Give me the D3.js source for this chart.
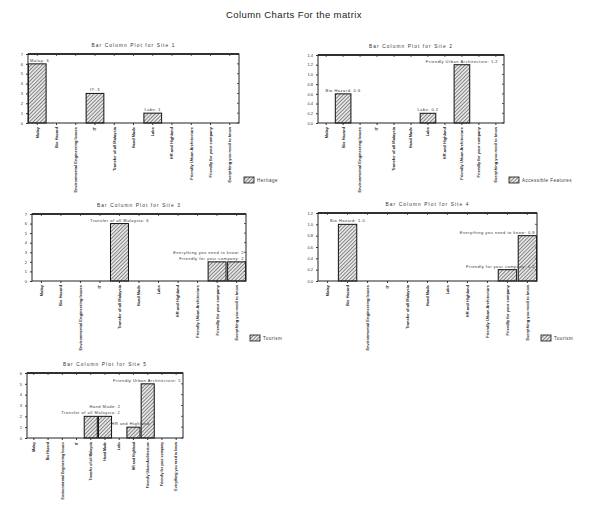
<!DOCTYPE html>
<html>
<head>
<meta charset="utf-8">
<script src="https://cdn.jsdelivr.net/npm/d3@7"></script>
<style>
  html, body { margin: 0; padding: 0; background: #fff; }
  svg { display: block; font-family: "Liberation Sans", Arial, sans-serif; }
</style>
</head>
<body>
<svg id="chart" width="589" height="506"></svg>
<script>
// Category names shared by all five site charts
const categories = [
  "Malay", "Bio Hazard", "Environmental Engineering Issues", "IT",
  "Transfer of all Malaysia", "Hand Made", "Labs", "HR and Highland",
  "Friendly Urban Architecture", "Friendly for your company",
  "Everything you need to know"
];

// Values per site
const site1Values = [6, 0, 0, 3, 0, 0, 1, 0, 0, 0, 0];
const site2Values = [0, 0.6, 0, 0, 0, 0, 0.2, 0, 1.2, 0, 0];
const site3Values = [0, 0, 0, 0, 6, 0, 0, 0, 0, 2, 2];
const site4Values = [0, 1.0, 0, 0, 0, 0, 0, 0, 0, 0.2, 0.8];
const site5Values = [0, 0, 0, 0, 2, 2, 0, 1, 5, 0, 0];

// Y-axis tick labels per site
const site1Ticks = [0, 1, 2, 3, 4, 5, 6, 7];
const site2Ticks = [0, 0.2, 0.4, 0.6, 0.8, 1.0, 1.2, 1.4];
const site3Ticks = [0, 1, 2, 3, 4, 5, 6, 7];
const site4Ticks = [0, 0.2, 0.4, 0.6, 0.8, 1.0, 1.2];
const site5Ticks = [0, 1, 2, 3, 4, 5, 6];

const siteTitles = [
  "Bar Column Plot for Site 1", "Bar Column Plot for Site 2",
  "Bar Column Plot for Site 3", "Bar Column Plot for Site 4",
  "Bar Column Plot for Site 5"
];
const legendNames = ["Heritage", "Accessible Features", "Tourism", "Tourism", null];

const svg = d3.select("#chart");

// Diagonal hatch used to fill the columns
const defs = svg.append("defs");
const pat = defs.append("pattern")
  .attr("id", "hatch").attr("patternUnits", "userSpaceOnUse")
  .attr("width", 2.6).attr("height", 2.6)
  .attr("patternTransform", "rotate(45)");
pat.append("rect").attr("width", 2.6).attr("height", 2.6).attr("fill", "#e4e4e4");
pat.append("line").attr("x1", 0).attr("y1", 0).attr("x2", 0).attr("y2", 2.6)
  .attr("stroke", "#333").attr("stroke-width", 1);

svg.append("text")
  .attr("x", 294).attr("y", 18)
  .attr("text-anchor", "middle")
  .attr("font-size", 9.5)
  .attr("letter-spacing", 0.4)
  .attr("fill", "#222")
  .text("Column Charts For the matrix");

const panels = [
  { values: site1Values, ticks: site1Ticks, fmt: d3.format("d"),   box: [28, 54, 239, 123],  legend: [244, 180], lab: 4.0 },
  { values: site2Values, ticks: site2Ticks, fmt: d3.format(".1f"), box: [318, 55, 504, 123], legend: [509, 180], lab: 4.0 },
  { values: site3Values, ticks: site3Ticks, fmt: d3.format("d"),   box: [32, 214, 246, 281], legend: [250, 338], lab: 4.0 },
  { values: site4Values, ticks: site4Ticks, fmt: d3.format(".1f"), box: [318, 213, 537, 281], legend: [541, 338], lab: 4.0 },
  { values: site5Values, ticks: site5Ticks, fmt: d3.format("d"),   box: [27, 373, 183, 438], legend: null, lab: 3.5 }
];

panels.forEach((p, i) => {
  const [x0, y0, x1, y1] = p.box;
  const g = svg.append("g");

  const x = d3.scaleBand().domain(categories).range([x0, x1]).paddingInner(0.08).paddingOuter(0.02);
  const y = d3.scaleLinear().domain([0, d3.max(p.ticks)]).range([y1, y0]);

  // Panel title
  g.append("text")
    .attr("x", (x0 + x1) / 2).attr("y", y0 - 7)
    .attr("text-anchor", "middle")
    .attr("font-size", 4.8).attr("letter-spacing", 1.1)
    .attr("fill", "#333")
    .text(siteTitles[i]);

  const bars = p.values.map((v, k) => ({ c: categories[k], v, k })).filter(d => d.v > 0);

  // Columns
  g.selectAll("rect.bar")
    .data(bars)
    .join("rect")
    .attr("class", "bar")
    .attr("x", d => x(d.c)).attr("width", x.bandwidth())
    .attr("y", d => y(d.v)).attr("height", d => y(0) - y(d.v))
    .attr("fill", "url(#hatch)")
    .attr("stroke", "#111").attr("stroke-width", 1);

  // Value labels above columns; neighbouring labels at the same height are staggered
  let prev = null;
  bars.forEach(d => {
    d.ly = y(d.v) - 2;
    if (prev && d.k - prev.k === 1 && Math.abs(prev.ly - d.ly) < 6) d.ly = prev.ly - 6;
    prev = d;
  });
  const labels = g.selectAll("text.val")
    .data(bars)
    .join("text")
    .attr("class", "val")
    .attr("x", d => x(d.c) + x.bandwidth() / 2)
    .attr("y", d => d.ly)
    .attr("text-anchor", "middle")
    .attr("font-size", 4).attr("letter-spacing", 0.5)
    .attr("fill", "#333")
    .text(d => d.c + ": " + p.fmt(d.v));

  // Keep value labels inside the plot frame
  labels.each(function(d) {
    const w = this.getComputedTextLength();
    const cx = x(d.c) + x.bandwidth() / 2;
    if (cx + w / 2 > x1 - 2) {
      d3.select(this).attr("text-anchor", "end").attr("x", x1 - 2);
    } else if (cx - w / 2 < x0 + 2) {
      d3.select(this).attr("text-anchor", "start").attr("x", x0 + 2);
    }
  });

  // Frame
  g.append("rect")
    .attr("x", x0).attr("y", y0).attr("width", x1 - x0).attr("height", y1 - y0)
    .attr("fill", "none").attr("stroke", "#222").attr("stroke-width", 1);
  g.append("line").attr("x1", x0).attr("x2", x1).attr("y1", y0).attr("y2", y0)
    .attr("stroke", "#111").attr("stroke-width", 1.6);

  // Left axis
  const yAxis = d3.axisLeft(y).tickValues(p.ticks).tickFormat(p.fmt).tickSize(2).tickPadding(3);
  const ya = g.append("g").attr("transform", `translate(${x0},0)`).call(yAxis);
  ya.select(".domain").remove();
  ya.selectAll("text").attr("font-size", 4).attr("fill", "#333");
  ya.selectAll("line").attr("stroke", "#333");

  // Right-side inner ticks
  g.selectAll("line.rt").data(p.ticks).join("line")
    .attr("x1", x1 - 2).attr("x2", x1).attr("y1", d => y(d)).attr("y2", d => y(d))
    .attr("stroke", "#333").attr("stroke-width", 0.8);

  // Top category ticks
  g.selectAll("line.tt").data(categories).join("line")
    .attr("x1", d => x(d) + x.bandwidth() / 2).attr("x2", d => x(d) + x.bandwidth() / 2)
    .attr("y1", y0).attr("y2", y0 + 2)
    .attr("stroke", "#333").attr("stroke-width", 0.8);

  // Bottom axis with rotated category labels
  const xAxis = d3.axisBottom(x).tickSize(2).tickPadding(2);
  const xa = g.append("g").attr("transform", `translate(0,${y1})`).call(xAxis);
  xa.select(".domain").remove();
  xa.selectAll("line").attr("stroke", "#333");
  xa.selectAll("text")
    .attr("font-size", p.lab).attr("font-weight", "bold").attr("fill", "#222")
    .attr("text-anchor", "end")
    .attr("transform", "rotate(-90)")
    .attr("x", -4).attr("y", 0).attr("dy", "0.35em");

  // Legend
  if (p.legend && legendNames[i]) {
    const [lx, ly] = p.legend;
    g.append("rect").attr("x", lx).attr("y", ly - 3).attr("width", 10).attr("height", 6)
      .attr("fill", "url(#hatch)").attr("stroke", "#111").attr("stroke-width", 0.8);
    g.append("text").attr("x", lx + 13).attr("y", ly + 1.5)
      .attr("font-size", 4.5).attr("letter-spacing", 0.5).attr("fill", "#333")
      .text(legendNames[i]);
  }
});
</script>
</body>
</html>
